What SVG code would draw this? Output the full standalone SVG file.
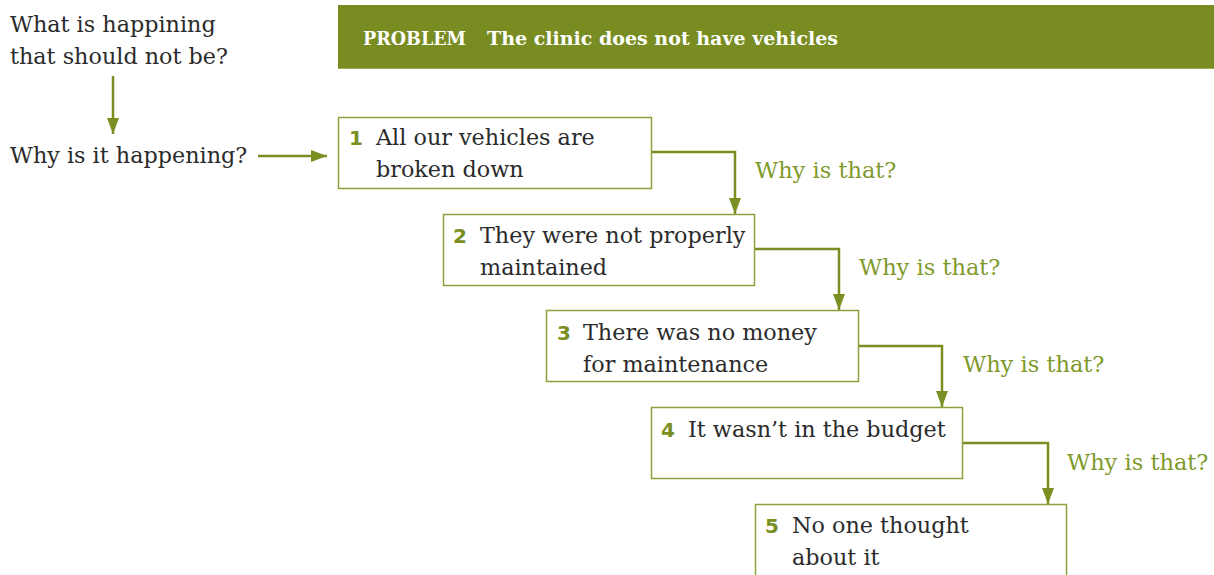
<svg xmlns="http://www.w3.org/2000/svg" width="1214" height="575" viewBox="0 0 1214 575">
<style>
.t{font-family:"DejaVu Serif","Liberation Serif",serif;font-size:22.3px;fill:#2b2b2b}
.n{font-family:"DejaVu Sans","Liberation Sans",sans-serif;font-size:20px;font-weight:bold;fill:#7a8f22}
.w{font-family:"DejaVu Serif","Liberation Serif",serif;font-size:22.5px;fill:#7f9a2c}
.b{font-family:"DejaVu Serif","Liberation Serif",serif;font-size:18.5px;font-weight:bold;fill:#fff}
.box{fill:#fff;stroke:#8ba23a;stroke-width:1.5}
.c{fill:none;stroke:#7a8f22;stroke-width:2.5}
</style>
<defs>
<marker id="ah" viewBox="0 0 16 12" refX="16" refY="6" markerWidth="16" markerHeight="12" orient="auto" markerUnits="userSpaceOnUse">
<path d="M0,0 L16,6 L0,12 z" fill="#7a8f22"/>
</marker>
</defs>
<rect x="338" y="5" width="876" height="64" fill="#788c22"/>
<line x1="338" y1="68.5" x2="1214" y2="68.5" stroke="#9aad52" stroke-width="1"/>
<text class="b" x="363" y="45" textLength="103" lengthAdjust="spacingAndGlyphs">PROBLEM</text>
<text class="b" x="487" y="45" textLength="351" lengthAdjust="spacingAndGlyphs">The clinic does not have vehicles</text>
<text class="t" x="10" y="32">What is happining</text>
<text class="t" x="10" y="64">that should not be?</text>
<text class="t" x="10" y="163">Why is it happening?</text>
<g id="connectors">
<line class="c" x1="113" y1="76" x2="113" y2="134" marker-end="url(#ah)"/>
<line class="c" x1="258" y1="156" x2="327" y2="156" marker-end="url(#ah)"/>
<polyline class="c" points="651,152 735,152 735,214" marker-end="url(#ah)"/>
<polyline class="c" points="755,249 839,249 839,310" marker-end="url(#ah)"/>
<polyline class="c" points="859,346 942,346 942,407" marker-end="url(#ah)"/>
<polyline class="c" points="963,443 1048,443 1048,504" marker-end="url(#ah)"/>
</g>
<text class="w" x="755" y="178">Why is that?</text>
<text class="w" x="859" y="275">Why is that?</text>
<text class="w" x="963" y="372">Why is that?</text>
<text class="w" x="1067" y="470">Why is that?</text>
<g id="n1"><rect class="box" x="338.5" y="117.5" width="313" height="71"/><text class="n" x="349" y="145">1</text><text class="t" x="376" y="145">All our vehicles are</text><text class="t" x="376" y="177">broken down</text></g>
<g id="n2"><rect class="box" x="443.5" y="214.5" width="311" height="71"/><text class="n" x="453" y="243">2</text><text class="t" x="480" y="243">They were not properly</text><text class="t" x="480" y="275">maintained</text></g>
<g id="n3"><rect class="box" x="546.5" y="310.5" width="312" height="71"/><text class="n" x="557" y="340">3</text><text class="t" x="583" y="340">There was no money</text><text class="t" x="583" y="372">for maintenance</text></g>
<g id="n4"><rect class="box" x="651.5" y="407.5" width="311" height="71"/><text class="n" x="661" y="437">4</text><text class="t" x="688" y="437">It wasn’t in the budget</text></g>
<g id="n5"><rect class="box" x="755.5" y="504.5" width="311" height="80"/><text class="n" x="765" y="533">5</text><text class="t" x="792" y="533">No one thought</text><text class="t" x="792" y="565">about it</text></g>
</svg>
